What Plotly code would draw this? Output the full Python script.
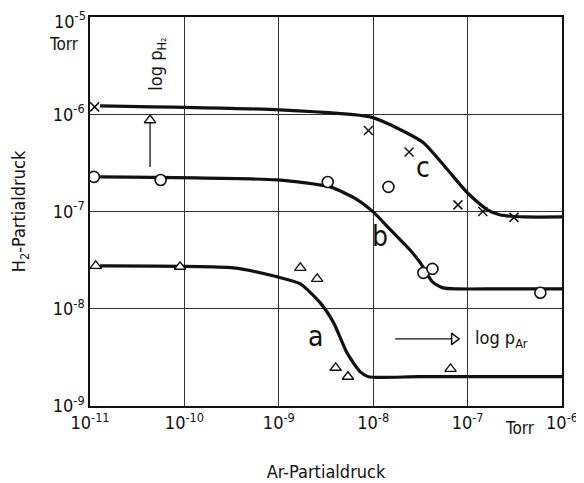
import math
import plotly.graph_objects as go

# ---- data ----
# smooth curves (Ar partial pressure, H2 partial pressure) in Torr
curve_a_x = [1.28e-11, 3.3e-10, 9.6e-10, 1.69e-9, 2.75e-9, 3.8e-9, 5.3e-9, 7.3e-9, 8.9e-9, 3.0e-8, 1.0e-6]
curve_a_y = [2.76e-8, 2.63e-8, 2.13e-8, 1.80e-8, 1.15e-8, 7.2e-9, 3.5e-9, 2.24e-9, 2.0e-9, 2.0e-9, 2.0e-9]

curve_b_x = [1.28e-11, 9.6e-10, 3.5e-9, 6.8e-9, 1.0e-8, 1.52e-8, 2.47e-8, 3.16e-8, 4.24e-8, 5.5e-8, 7.8e-8, 2.0e-7, 1.0e-6]
curve_b_y = [2.27e-7, 2.11e-7, 1.79e-7, 1.32e-7, 9.9e-8, 6.5e-8, 4.0e-8, 2.96e-8, 1.89e-8, 1.64e-8, 1.6e-8, 1.6e-8, 1.6e-8]

curve_c_x = [1.28e-11, 1.03e-9, 9.3e-9, 1.52e-8, 3.4e-8, 6.1e-8, 1.0e-7, 1.62e-7, 2.23e-7, 4.0e-7, 1.0e-6]
curve_c_y = [1.22e-6, 1.11e-6, 9.4e-7, 7.8e-7, 5.1e-7, 2.7e-7, 1.55e-7, 1.04e-7, 9.2e-8, 8.8e-8, 8.8e-8]

# measured points
pts_a_x = [1.15e-11, 9.0e-11, 1.69e-9, 2.55e-9, 4.0e-9, 5.4e-9, 6.6e-8]
pts_a_y = [2.76e-8, 2.70e-8, 2.63e-8, 2.03e-8, 2.47e-9, 2.0e-9, 2.41e-9]

pts_b_x = [1.1e-11, 5.6e-11, 3.3e-9, 1.45e-8, 3.4e-8, 4.24e-8, 5.9e-7]
pts_b_y = [2.27e-7, 2.11e-7, 2.01e-7, 1.79e-7, 2.34e-8, 2.57e-8, 1.46e-8]

pts_c_x = [1.12e-11, 8.9e-9, 2.4e-8, 7.9e-8, 1.45e-7, 3.1e-7]
pts_c_y = [1.19e-6, 6.8e-7, 4.1e-7, 1.17e-7, 1.0e-7, 8.7e-8]

x_tickvals = [1e-11, 1e-10, 1e-9, 1e-8, 1e-7, 1e-6]
x_ticktext = ["10<sup>-11</sup>", "10<sup>-10</sup>", "10<sup>-9</sup>", "10<sup>-8</sup>",
              "10<sup>-7</sup>", "10<sup>-6</sup>"]
y_tickvals = [1e-9, 1e-8, 1e-7, 1e-6, 1e-5]
y_ticktext = ["10<sup>-9</sup>", "10<sup>-8</sup>", "10<sup>-7</sup>", "10<sup>-6</sup>",
              "10<sup>-5</sup>"]

curve_labels = ["a", "b", "c"]
label_x = [2.43e-9, 1.19e-8, 3.4e-8]
label_y = [5.14e-9, 5.48e-8, 2.81e-7]

FONT = "Liberation Sans Narrow, DejaVu Sans Condensed, Liberation Sans, sans-serif"
INK = "#111111"

fig = go.Figure()

for cx, cy in [(curve_a_x, curve_a_y), (curve_b_x, curve_b_y), (curve_c_x, curve_c_y)]:
    fig.add_trace(go.Scatter(x=cx, y=cy, mode="lines",
                             line=dict(color=INK, width=3.2, shape="spline", smoothing=0.6),
                             hoverinfo="skip"))

fig.add_trace(go.Scatter(x=pts_a_x, y=pts_a_y, mode="markers",
                         marker=dict(symbol="triangle-up", size=10, color="white",
                                     line=dict(color=INK, width=1.4))))
fig.add_trace(go.Scatter(x=pts_b_x, y=pts_b_y, mode="markers",
                         marker=dict(symbol="circle", size=11, color="white",
                                     line=dict(color=INK, width=1.6))))
fig.add_trace(go.Scatter(x=pts_c_x, y=pts_c_y, mode="markers",
                         marker=dict(symbol="x-thin", size=9,
                                     line=dict(color=INK, width=1.5))))

# direction arrows
fig.add_trace(go.Scatter(x=[4.33e-11, 4.33e-11], y=[2.87e-7, 8.7e-7], mode="lines",
                         line=dict(color=INK, width=1.3), hoverinfo="skip"))
fig.add_trace(go.Scatter(x=[4.33e-11], y=[8.7e-7], mode="markers",
                         marker=dict(symbol="triangle-up", size=10, color="white",
                                     line=dict(color=INK, width=1.5)), hoverinfo="skip"))
fig.add_trace(go.Scatter(x=[1.71e-8, 7.2e-8], y=[4.9e-9, 4.9e-9], mode="lines",
                         line=dict(color=INK, width=1.3), hoverinfo="skip"))
fig.add_trace(go.Scatter(x=[7.2e-8], y=[4.9e-9], mode="markers",
                         marker=dict(symbol="triangle-right", size=10, color="white",
                                     line=dict(color=INK, width=1.5)), hoverinfo="skip"))

# page body has an 8 px margin; figure is sized so the plot area lands where the reference has it
OFF = 8
W, H = 584 - OFF, 483 - OFF
L, R, T, B = 90 - OFF, 22, 17 - OFF, 77
pw, ph = W - L - R, H - T - B

def px_to_paper_x(px):
    return (px - OFF - L) / pw

def py_to_paper_y(py):
    return 1 - (py - OFF - T) / ph

annotations = []
for t, lx, ly in zip(curve_labels, label_x, label_y):
    annotations.append(dict(x=math.log10(lx), y=math.log10(ly),
                            xref="x", yref="y", text=t, showarrow=False,
                            xanchor="center", yanchor="middle",
                            font=dict(family=FONT, size=28, color=INK)))
annotations += [
    # top y tick label drawn slightly lower so it is not clipped by the page edge
    dict(x=px_to_paper_x(88), y=py_to_paper_y(20), xref="paper", yref="paper",
         text=y_ticktext[-1], xanchor="right", yanchor="middle", showarrow=False,
         font=dict(family=FONT, size=18, color=INK)),
    dict(x=-10.29, y=-5.49, xref="x", yref="y", text="log p<sub>H₂</sub>", textangle=-90,
         xanchor="center", yanchor="middle",
         showarrow=False, font=dict(family=FONT, size=18, color=INK)),
    dict(x=-6.94, y=-8.31, xref="x", yref="y", text="log p<sub>Ar</sub>", xanchor="left",
         yanchor="middle",
         showarrow=False, font=dict(family=FONT, size=18, color=INK)),
    dict(x=px_to_paper_x(81), y=py_to_paper_y(44), xref="paper", yref="paper", text="Torr",
         xanchor="right", yanchor="middle", showarrow=False,
         font=dict(family=FONT, size=17, color=INK)),
    dict(x=px_to_paper_x(520), y=py_to_paper_y(428), xref="paper", yref="paper", text="Torr",
         xanchor="center", yanchor="middle", showarrow=False,
         font=dict(family=FONT, size=17, color=INK)),
]

fig.update_layout(
    width=W, height=H,
    margin=dict(l=L, r=R, t=T, b=B, autoexpand=False),
    paper_bgcolor="white", plot_bgcolor="white",
    showlegend=False,
    font=dict(family=FONT, size=17, color=INK),
    annotations=annotations,
)
fig.update_xaxes(type="log", range=[-11, -6], tickvals=x_tickvals, ticktext=x_ticktext,
                 automargin=False, ticklabeloverflow="allow",
                 showgrid=True, gridcolor="#333333", gridwidth=1,
                 showline=True, linecolor=INK, linewidth=1.5, mirror=True,
                 ticks="", zeroline=False,
                 title=dict(text="Ar-Partialdruck", font=dict(family=FONT, size=18), standoff=33),
                 tickfont=dict(family=FONT, size=18))
fig.update_yaxes(type="log", range=[-9, -5], tickvals=y_tickvals,
                 ticktext=y_ticktext[:-1] + [""],
                 automargin=False, ticklabeloverflow="allow",
                 showgrid=True, gridcolor="#333333", gridwidth=1,
                 showline=True, linecolor=INK, linewidth=1.5, mirror=True,
                 ticks="", zeroline=False,
                 title=dict(text="H<sub>2</sub>-Partialdruck", font=dict(family=FONT, size=18), standoff=30),
                 tickfont=dict(family=FONT, size=18))

fig.write_html("out.html")
